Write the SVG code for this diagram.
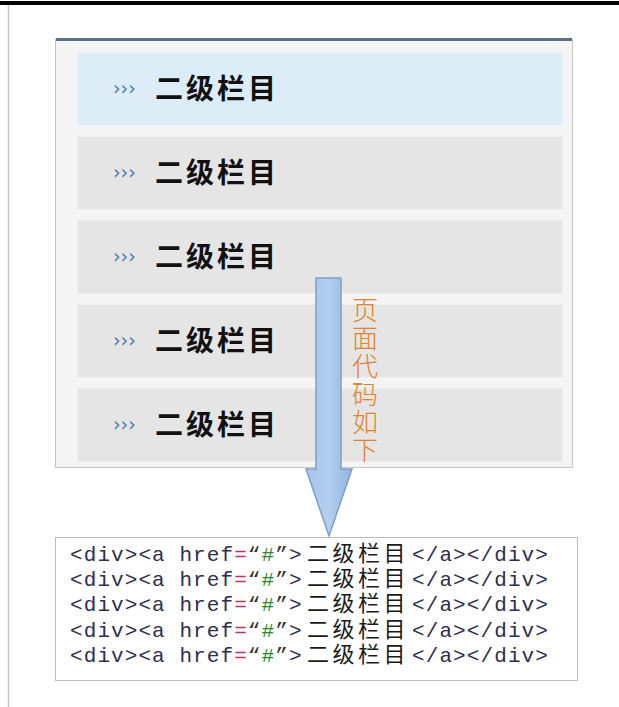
<svg xmlns="http://www.w3.org/2000/svg" width="619" height="707" viewBox="0 0 619 707">
  <defs>
    <linearGradient id="arrowGrad" x1="0" y1="0" x2="1" y2="0">
      <stop offset="0" stop-color="#a5c5ea"/>
      <stop offset="0.5" stop-color="#b4cfee"/>
      <stop offset="1" stop-color="#8fb3df"/>
    </linearGradient>
    <style>
      .row { fill: #e5e5e5; stroke: #efefef; stroke-width: 1; }
      .row.active { fill: #dcedf7; stroke: #e8f3f9; }
      .chev { font-family: "DejaVu Sans", sans-serif; font-size: 19px; fill: #4f7db0; letter-spacing: 0px; }
      .label { font-family: "Noto Sans CJK SC", "Noto Sans", sans-serif; font-size: 28px; font-weight: bold; fill: #111; letter-spacing: 3px; }
      .vlabel { font-family: "Noto Sans CJK SC", sans-serif; font-size: 26px; font-weight: 300; fill: #e3822c; writing-mode: vertical-rl; letter-spacing: 2px; }
      .code { font-family: "Liberation Mono", "Noto Sans CJK SC", monospace; font-size: 21px; fill: #2d2d4f; }
      .cjk { font-family: "Noto Sans CJK SC", sans-serif; fill: #1a1a1a; font-size: 22px; }
      .eq { fill: #c2306a; }
      .hash { fill: #2a8a2a; }
      .q { fill: #333; }
    </style>
  </defs>

  <rect x="0" y="1" width="619" height="4" fill="#000"/>
  <line x1="8.5" y1="5" x2="8.5" y2="707" stroke="#c4c4c4" stroke-width="1.5"/>

  <g id="panel">
    <rect x="55.5" y="39.5" width="517" height="428" fill="#f4f4f4" stroke="#c6c6c6"/>
    <rect x="56" y="38" width="516" height="3" fill="#5b7080"/>
  </g>

  <g id="row1">
    <rect class="row active" x="77.5" y="52.5" width="485" height="73"/>
    <text class="chev" x="113" y="95">›››</text>
    <text class="label" x="155" y="99">二级栏目</text>
  </g>
  <g id="row2">
    <rect class="row" x="77.5" y="136.5" width="485" height="73"/>
    <text class="chev" x="113" y="179">›››</text>
    <text class="label" x="155" y="183">二级栏目</text>
  </g>
  <g id="row3">
    <rect class="row" x="77.5" y="220.5" width="485" height="73"/>
    <text class="chev" x="113" y="263">›››</text>
    <text class="label" x="155" y="267">二级栏目</text>
  </g>
  <g id="row4">
    <rect class="row" x="77.5" y="304.5" width="485" height="73"/>
    <text class="chev" x="113" y="347">›››</text>
    <text class="label" x="155" y="351">二级栏目</text>
  </g>
  <g id="row5">
    <rect class="row" x="77.5" y="388.5" width="485" height="73"/>
    <text class="chev" x="113" y="431">›››</text>
    <text class="label" x="155" y="435">二级栏目</text>
  </g>

  <g id="connectors">
    <path d="M316,278 H341 V469 H352 L329,536 L306,469 H316 Z" fill="url(#arrowGrad)" stroke="#7d9fc9" stroke-width="1.5" stroke-linejoin="miter"/>
  </g>

  <g id="arrow-label">
    <text class="vlabel" x="365" y="297">页面代码如下</text>
  </g>

  <g id="code">
    <rect x="55.5" y="537.5" width="522" height="143" fill="#fff" stroke="#bdbdbd"/>
    <text class="code" y="561"><tspan x="70 83.7 97.4 111 124.7 138.4 152.1 165.8 179.4 193.1 206.8 220.5">&lt;div&gt;&lt;a href</tspan><tspan class="eq" x="234.2">=</tspan><tspan class="q" x="247.8">“</tspan><tspan class="hash" x="261.5">#</tspan><tspan class="q" x="275.2">”</tspan><tspan x="288.9">&gt;</tspan><tspan class="cjk" x="307 332.5 358 383.5">二级栏目</tspan><tspan x="412 425.7 439.4 453.1 466.8 480.5 494.2 507.9 521.6 535.3">&lt;/a&gt;&lt;/div&gt;</tspan></text>
    <text class="code" y="586"><tspan x="70 83.7 97.4 111 124.7 138.4 152.1 165.8 179.4 193.1 206.8 220.5">&lt;div&gt;&lt;a href</tspan><tspan class="eq" x="234.2">=</tspan><tspan class="q" x="247.8">“</tspan><tspan class="hash" x="261.5">#</tspan><tspan class="q" x="275.2">”</tspan><tspan x="288.9">&gt;</tspan><tspan class="cjk" x="307 332.5 358 383.5">二级栏目</tspan><tspan x="412 425.7 439.4 453.1 466.8 480.5 494.2 507.9 521.6 535.3">&lt;/a&gt;&lt;/div&gt;</tspan></text>
    <text class="code" y="611"><tspan x="70 83.7 97.4 111 124.7 138.4 152.1 165.8 179.4 193.1 206.8 220.5">&lt;div&gt;&lt;a href</tspan><tspan class="eq" x="234.2">=</tspan><tspan class="q" x="247.8">“</tspan><tspan class="hash" x="261.5">#</tspan><tspan class="q" x="275.2">”</tspan><tspan x="288.9">&gt;</tspan><tspan class="cjk" x="307 332.5 358 383.5">二级栏目</tspan><tspan x="412 425.7 439.4 453.1 466.8 480.5 494.2 507.9 521.6 535.3">&lt;/a&gt;&lt;/div&gt;</tspan></text>
    <text class="code" y="637"><tspan x="70 83.7 97.4 111 124.7 138.4 152.1 165.8 179.4 193.1 206.8 220.5">&lt;div&gt;&lt;a href</tspan><tspan class="eq" x="234.2">=</tspan><tspan class="q" x="247.8">“</tspan><tspan class="hash" x="261.5">#</tspan><tspan class="q" x="275.2">”</tspan><tspan x="288.9">&gt;</tspan><tspan class="cjk" x="307 332.5 358 383.5">二级栏目</tspan><tspan x="412 425.7 439.4 453.1 466.8 480.5 494.2 507.9 521.6 535.3">&lt;/a&gt;&lt;/div&gt;</tspan></text>
    <text class="code" y="662"><tspan x="70 83.7 97.4 111 124.7 138.4 152.1 165.8 179.4 193.1 206.8 220.5">&lt;div&gt;&lt;a href</tspan><tspan class="eq" x="234.2">=</tspan><tspan class="q" x="247.8">“</tspan><tspan class="hash" x="261.5">#</tspan><tspan class="q" x="275.2">”</tspan><tspan x="288.9">&gt;</tspan><tspan class="cjk" x="307 332.5 358 383.5">二级栏目</tspan><tspan x="412 425.7 439.4 453.1 466.8 480.5 494.2 507.9 521.6 535.3">&lt;/a&gt;&lt;/div&gt;</tspan></text>
  </g>
</svg>
